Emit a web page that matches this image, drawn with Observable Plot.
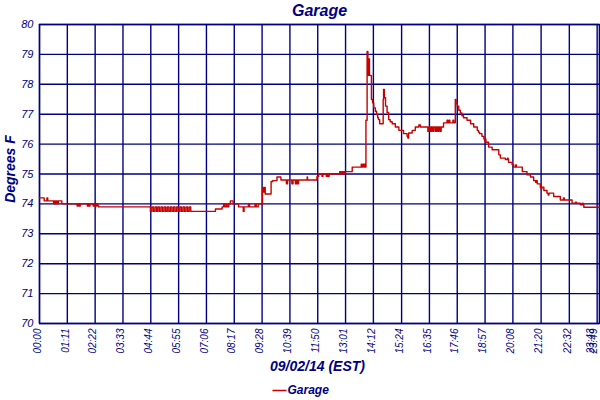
<!DOCTYPE html>
<html><head><meta charset="utf-8">
<script src="https://cdn.jsdelivr.net/npm/d3@7"></script>
<script src="https://cdn.jsdelivr.net/npm/@observablehq/plot@0.6"></script>
<style>body{margin:0;background:#fff}</style>
</head><body><div id="chart"></div>
<script>
const title = "Garage";
const xLabel = "09/02/14 (EST)";
const yLabel = "Degrees F";
const seriesName = "Garage";
const yTicks = [70, 71, 72, 73, 74, 75, 76, 77, 78, 79, 80];
const tickMinutes = [0, 71, 142, 213, 284, 355, 426, 497, 568, 639, 710, 781, 852, 924, 995, 1066, 1137, 1208, 1280, 1352, 1423, 1429];
const minutes = [
  0, 12, 19, 21, 36, 38, 41, 43, 46, 48, 57, 96, 98, 101, 104, 122, 125, 127, 129, 137, 140, 143, 146, 149, 151,
  283, 287, 291, 295, 299, 302, 306, 310, 314, 318, 322, 326, 330, 334, 338, 342, 346, 350, 354, 358, 362, 366, 370, 374, 378, 382, 386,
  449, 466, 470, 472, 476, 479, 483, 487, 494, 508, 520, 522, 533, 536, 550, 553, 558,
  569, 571, 573, 576, 591, 595, 606, 616, 630, 633, 644, 647, 653, 656, 658, 661, 683, 684,
  708, 712, 721, 723, 732, 735, 737, 739, 766, 769, 771, 774, 776, 779, 780, 798, 821, 823, 826, 829, 831, 832,
  833, 836, 838, 840, 842, 847, 850, 853, 857, 860, 863, 865, 868, 877, 878, 880, 883, 887, 891, 895, 900, 908, 917, 929, 938, 940, 942, 951, 959, 968, 972,
  991, 994, 997, 1000, 1003, 1006, 1010, 1013, 1016, 1019, 1022, 1025, 1031, 1040, 1042, 1045, 1047, 1055, 1057,
  1061, 1063, 1066, 1070, 1074, 1078, 1082, 1091, 1100, 1108, 1117, 1120, 1123, 1129, 1134, 1136, 1138, 1139, 1146, 1155, 1172, 1176, 1189, 1194, 1196, 1197,
  1206, 1210, 1215, 1217, 1232, 1244, 1253, 1261, 1266, 1268, 1270, 1278, 1280, 1282, 1287, 1295, 1298, 1300, 1312, 1329, 1337, 1339, 1359, 1368, 1370, 1380, 1385, 1387, 1389, 1429
];
const temps = [
  74.2, 74.1, 74.2, 74.1, 74.0, 74.1, 74.0, 74.1, 74.0, 74.1, 74.0, 73.93, 74.0, 73.93, 74.0, 73.93, 74.0, 73.93, 74.0, 73.93, 74.0, 73.93, 74.0, 73.93, 73.9,
  73.75, 73.9, 73.75, 73.9, 73.75, 73.9, 73.75, 73.9, 73.75, 73.9, 73.75, 73.9, 73.75, 73.9, 73.75, 73.9, 73.75, 73.9, 73.75, 73.9, 73.75, 73.9, 73.75, 73.9, 73.75, 73.9, 73.75,
  73.83, 73.9, 74.0, 73.9, 74.0, 73.9, 74.0, 74.1, 74.0, 73.9, 73.75, 73.9, 74.0, 73.9, 74.0, 73.9, 74.0,
  74.55, 74.4, 74.55, 74.33, 74.75, 74.78, 74.9, 74.8, 74.67, 74.8, 74.67, 74.8, 74.67, 74.8, 74.67, 74.8, 74.9, 74.8,
  74.92, 75.0, 74.92, 75.0, 74.92, 75.0, 74.92, 75.0, 75.08, 75.0, 75.08, 75.0, 75.08, 75.0, 75.08, 75.23, 75.33, 75.23, 75.33, 75.23, 75.33, 75.23,
  76.8, 79.1, 78.3, 78.85, 78.3, 77.49, 77.38, 77.21, 77.1, 76.99, 76.88, 76.82, 76.68, 77.49, 77.83, 77.55, 77.27, 77.06, 76.82, 76.75, 76.68, 76.57, 76.46, 76.35, 76.26, 76.2, 76.37, 76.46, 76.57, 76.64, 76.57,
  76.43, 76.57, 76.43, 76.57, 76.43, 76.57, 76.43, 76.57, 76.43, 76.57, 76.43, 76.57, 76.71, 76.8, 76.71, 76.8, 76.71, 76.8, 76.71,
  77.49, 77.36, 77.27, 77.13, 77.04, 76.95, 76.88, 76.8, 76.68, 76.57, 76.46, 76.4, 76.35, 76.26, 76.17, 76.1, 76.17, 76.06, 75.9, 75.81, 75.64, 75.53, 75.48, 75.53, 75.48, 75.39,
  75.31, 75.23, 75.3, 75.23, 75.08, 74.97, 74.9, 74.78, 74.72, 74.78, 74.67, 74.56, 74.5, 74.56, 74.45, 74.36, 74.3, 74.36, 74.25, 74.13, 74.2, 74.13, 74.02, 74.06, 74.02, 73.97, 74.02, 73.97, 73.89, 73.89
];

const data = minutes.map((m, i) => ({t: m, v: temps[i]}));
const fmt = m => String(Math.floor(m / 60)).padStart(2, "0") + ":" + String(m % 60).padStart(2, "0");
const navy = "#000080";
const font = "Liberation Sans, Arial, sans-serif";
const mainTicks = tickMinutes.slice(0, -2);
const endTicks = tickMinutes.slice(-2);

const chart = Plot.plot({
  width: 600,
  height: 400,
  marginTop: 24,
  marginBottom: 77,
  marginLeft: 39,
  marginRight: 1,
  style: {color: navy, fontFamily: font, background: "#fff"},
  x: {domain: [0, 1429]},
  y: {domain: [70, 80]},
  marks: [
    Plot.gridX({ticks: tickMinutes, stroke: navy, strokeOpacity: 1, strokeWidth: 1.4}),
    Plot.gridY({ticks: yTicks, stroke: navy, strokeOpacity: 1, strokeWidth: 1.4}),
    Plot.frame({stroke: navy, strokeWidth: 1.4}),
    Plot.lineY(data, {x: "t", y: "v", curve: "step-after", stroke: "#c80000", strokeWidth: 1.4}),
    Plot.axisX({ticks: mainTicks, tickFormat: fmt, tickRotate: -90, tickSize: 0, tickPadding: 5, dx: -2, fontSize: 10, fontStyle: "italic", label: null}),
    Plot.axisX({ticks: endTicks, tickFormat: fmt, tickRotate: -90, tickSize: 0, tickPadding: 5, dx: -6, fontSize: 10, fontStyle: "italic", label: null}),
    Plot.axisY({ticks: yTicks, tickSize: 0, tickPadding: 6, fontSize: 11, fontStyle: "italic", label: null}),
    Plot.text([title], {frameAnchor: "top", lineAnchor: "middle", dy: -14, fontSize: 16, fontWeight: "bold", fontStyle: "italic", fill: navy}),
    Plot.text([yLabel], {frameAnchor: "left", textAnchor: "middle", lineAnchor: "middle", dx: -29, dy: -5, rotate: -90, fontSize: 14, fontWeight: "bold", fontStyle: "italic", fill: navy}),
    Plot.text([xLabel], {frameAnchor: "bottom", lineAnchor: "middle", dy: 43, dx: -2, fontSize: 14, fontWeight: "bold", fontStyle: "italic", fill: navy}),
    Plot.text(["\u2014"], {frameAnchor: "bottom-left", lineAnchor: "middle", dx: 233, dy: 67, textAnchor: "start", fontSize: 14, fontWeight: "bold", fill: "#c80000"}),
    Plot.text([seriesName], {frameAnchor: "bottom-left", lineAnchor: "middle", dx: 248, dy: 67, textAnchor: "start", fontSize: 12, fontWeight: "bold", fontStyle: "italic", fill: navy})
  ]
});
document.getElementById("chart").appendChild(chart);
</script>
</body></html>
